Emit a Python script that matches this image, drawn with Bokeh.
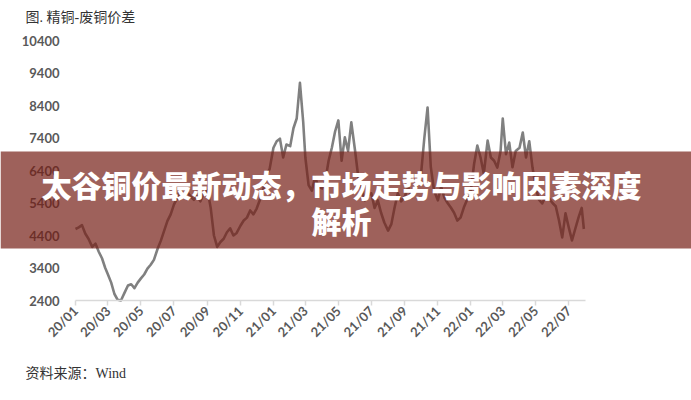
import math
from datetime import datetime, timedelta
import pandas as pd
from bokeh.plotting import figure
from bokeh.models import Range1d, FixedTicker, DatetimeTickFormatter, BoxAnnotation, Label
from bokeh.embed import file_html
from bokeh.resources import INLINE

# ---------------- data ----------------
sample_days = [1, 7, 13, 19, 25]
month_starts = pd.date_range("2020-01-01", "2022-07-01", freq="MS")

values_2020 = [
    4600, 4650, 4720, 4460, 4300,
    4050, 4150, 3900, 3700, 3400,
    3200, 2950, 2600, 2420, 2400,
    2650, 2860, 2900, 2780, 2950,
    3080, 3200, 3380, 3500, 3650,
    4000, 4250, 4550, 4850, 5050,
    5350, 5550, 5800, 5650, 5750,
    5600, 5500, 5620, 5450, 5700,
    5800, 5250, 4400, 4050, 4200,
    4300, 4500, 4620, 4400, 4480,
    4700, 4860, 4950, 5170, 5050,
    5230, 5500, 5800, 6250, 6450,
]
values_2021 = [
    7100, 7300, 7380, 6800, 7200,
    7150, 7700, 8000, 9100, 7900,
    6800, 5950, 5780, 6200, 5900,
    5850, 6100, 6700, 7100, 7600,
    7940, 6700, 7420, 7000, 7880,
    7000, 6180, 5800, 5480, 5650,
    5700, 5250, 5480, 5100, 4800,
    4550, 4750, 5260, 5700, 5450,
    5600, 5880, 5570, 5780, 6000,
    6300, 7400, 8340, 6500, 5785,
    5480, 5900, 5570, 5400, 5260,
    5100, 4860, 4950, 5260, 5500,
]
values_2022 = [
    5785, 6600, 7170, 6800, 6300,
    7320, 6800, 6700, 6490, 7000,
    8000, 6900, 7260, 6500, 7000,
    7100, 7570, 6800, 7300, 6490,
    5880, 5500, 5385, 5600, 5550,
    5400, 5300, 4860, 4340, 5080,
    4650, 4250, 4600, 4950, 5250,
]
last_date = "2022-07-29"
last_value = 4600

y_ticks = [2400, 3400, 4400, 5400, 6400, 7400, 8400, 9400, 10400]
x_tick_months = pd.date_range("2020-01-01", "2022-07-01", freq="2MS")

title_line1 = "太谷铜价最新动态，市场走势与影响因素深度"
title_line2 = "解析"
caption_top = "图. 精铜-废铜价差"
caption_bottom = "资料来源：Wind"

# ---------------- build series ----------------
dates = [m + timedelta(days=d - 1) for m in month_starts for d in sample_days]
values = values_2020 + values_2021 + values_2022
dates.append(pd.Timestamp(last_date))
values.append(last_value)

axis_start = datetime(2020, 1, 1)
axis_end = datetime(2022, 8, 1)
y_min, y_max = 2400, 10400

# layout: the frame fills the whole canvas; the chart's axes sit at fixed places inside it
W, H = 691, 400
ax_left, ax_right, ax_top, ax_bottom = 75, 585, 40, 300   # canvas px of the plotting area

ms0 = axis_start.timestamp() * 1000
ms1 = axis_end.timestamp() * 1000
ms_per_px = (ms1 - ms0) / (ax_right - ax_left)
val_per_px = (y_max - y_min) / (ax_bottom - ax_top)
x_range = Range1d(ms0 - ax_left * ms_per_px, ms1 + (W - ax_right) * ms_per_px)
y_range = Range1d(y_min - (H - ax_bottom) * val_per_px, y_max + ax_top * val_per_px)

p = figure(width=W, height=H, x_axis_type="datetime",
           x_range=x_range, y_range=y_range, title=None,
           output_backend="svg", toolbar_location=None,
           min_border=0, min_border_left=0, min_border_right=0,
           min_border_top=0, min_border_bottom=0)
p.background_fill_color = "white"
p.border_fill_color = "white"
p.outline_line_color = None
p.grid.visible = False

p.line(dates, values, line_color="#808080", line_width=2.6, line_join="round")

# y axis (fixed at the left edge of the plotting area)
p.yaxis.fixed_location = ms0
p.yaxis.ticker = FixedTicker(ticks=y_ticks)
p.yaxis.axis_line_color = None
p.yaxis.major_tick_line_color = None
p.yaxis.minor_tick_line_color = None
p.yaxis.major_label_standoff = 10
p.yaxis.major_label_text_font = "Lato"
p.yaxis.major_label_text_font_style = "bold"
p.yaxis.major_label_text_font_size = "13px"
p.yaxis.major_label_text_color = "#595959"

# x axis (fixed at y = 2400)
p.xaxis.fixed_location = y_min
p.xaxis.bounds = (ms0, ms1)
p.xaxis.ticker = FixedTicker(ticks=[t.value / 1e6 for t in x_tick_months])
fmt = "%y/%m"
p.xaxis.formatter = DatetimeTickFormatter(days=fmt, months=fmt, years=fmt, hours=fmt)
p.xaxis.major_label_orientation = math.pi / 4
p.xaxis.axis_line_color = "#d9d9d9"
p.xaxis.axis_line_width = 1.5
p.xaxis.major_tick_line_color = "#d9d9d9"
p.xaxis.major_tick_line_width = 1.5
p.xaxis.major_tick_in = 0
p.xaxis.major_tick_out = 5
p.xaxis.minor_tick_line_color = None
p.xaxis.major_label_standoff = 3
p.xaxis.major_label_text_font = "Lato"
p.xaxis.major_label_text_font_style = "bold"
p.xaxis.major_label_text_font_size = "13px"
p.xaxis.major_label_text_color = "#595959"

# overlay banner and texts, placed in canvas pixels (layout only)
banner = BoxAnnotation(left=0, right=W, top=151, bottom=248,
                       left_units="canvas", right_units="canvas",
                       top_units="canvas", bottom_units="canvas",
                       fill_color="#751e16", fill_alpha=0.7, line_color=None,
                       level="overlay")
p.add_layout(banner)

cap_font = "Liberation Serif, Noto Sans CJK SC"
for txt, yy in [(caption_top, 17), (caption_bottom, 373)]:
    p.add_layout(Label(x=25, y=yy, x_units="canvas", y_units="canvas", text=txt,
                       text_font=cap_font, text_font_size="14px", text_color="#333333",
                       text_align="left", text_baseline="middle", level="overlay"))

for txt, yy in [(title_line1, 183), (title_line2, 219)]:
    p.add_layout(Label(x=341, y=yy, x_units="canvas", y_units="canvas", text=txt,
                       text_font="Noto Sans CJK SC Black, Noto Sans CJK SC",
                       text_font_size="30px", text_font_style="bold", text_color="white",
                       text_align="center", text_baseline="middle", level="overlay"))

open("out.html", "w").write(file_html(p, INLINE))
